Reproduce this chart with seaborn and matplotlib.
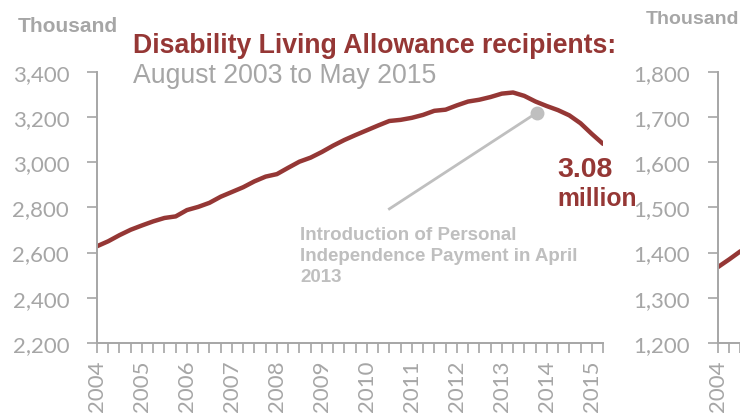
import matplotlib
matplotlib.use("Agg")
import matplotlib.pyplot as plt
import seaborn as sns
import pandas as pd

# ---- data (thousands, quarterly from Aug 2003 to May 2015) ----
dla_recipients = [2628, 2650, 2677, 2701, 2720, 2738, 2753, 2760, 2788, 2802,
                  2820, 2847, 2868, 2889, 2915, 2936, 2947, 2975, 3002, 3020,
                  3045, 3073, 3098, 3120, 3141, 3162, 3182, 3187, 3196, 3209,
                  3227, 3232, 3251, 3268, 3276, 3288, 3303, 3308, 3293, 3268,
                  3248, 3230, 3207, 3172, 3125, 3081]
year_labels = ["2004", "2005", "2006", "2007", "2008", "2009", "2010",
               "2011", "2012", "2013", "2014", "2015"]
right_values = [1368, 1385, 1403]
right_year_labels = ["2004"]
annotation_lines = ["Introduction of Personal",
                    "Independence Payment in April",
                    "2013"]

RED = "#953735"
GRAY = "#A6A6A6"
LIGHT = "#BFBFBF"

sns.set_style("white")
plt.rcParams["font.family"] = ["Liberation Sans", "DejaVu Sans"]

W, H = 740, 414
fig = plt.figure(figsize=(W / 100, H / 100), dpi=100)


def fx(px):
    return px / W


def fy(py):
    return 1 - py / H


def style_axis(ax, n_ticks, labels):
    for s in ["top", "right"]:
        ax.spines[s].set_visible(False)
    for s in ["left", "bottom"]:
        ax.spines[s].set_color(GRAY)
        ax.spines[s].set_linewidth(1.4)
    ax.set_xticks(range(n_ticks))
    lab = [""] * n_ticks
    for k, t in enumerate(labels):
        if 4 * k < n_ticks:
            lab[4 * k] = t
    ax.set_xticklabels(lab, rotation=90, fontfamily="Lato", fontsize=16,
                       color=GRAY)
    ax.tick_params(axis="x", bottom=True, direction="out", length=7,
                   width=1.2, color=GRAY, pad=5)
    ax.tick_params(axis="y", left=True, direction="out", length=7,
                   width=1.2, color=GRAY, pad=13, labelsize=16,
                   labelcolor=GRAY)
    for t in ax.get_yticklabels():
        t.set_fontfamily("Lato")
    ax.set_xlabel("")
    ax.set_ylabel("")
    ax.grid(False)


# ---- left panel ----
axL = fig.add_axes([fx(97), fy(344), fx(603 - 97), (344 - 72.7) / H])
dfL = pd.DataFrame({"q": range(len(dla_recipients)), "v": dla_recipients})
sns.lineplot(data=dfL, x="q", y="v", ax=axL, color=RED, linewidth=3.2)
axL.set_xlim(0, len(dla_recipients) - 1)
axL.set_ylim(2200, 3400)
axL.set_yticks(range(2200, 3401, 200))
axL.set_yticklabels([f"{v:,}" for v in range(2200, 3401, 200)])
style_axis(axL, len(dla_recipients), year_labels)

# annotation connector with dot
axL.plot([25.9, 39.1], [2790, 3218], color=LIGHT, linewidth=2,
         solid_capstyle="butt", zorder=3)
axL.plot([39.1], [3218], marker="o", markersize=9, color=LIGHT, zorder=4)

# ---- right panel (partially visible) ----
q_per_px = 1 / 11.244
axR = fig.add_axes([fx(718), fy(344), 0.3, (344 - 72.7) / H])
dfR = pd.DataFrame({"q": range(len(right_values)), "v": right_values})
sns.lineplot(data=dfR, x="q", y="v", ax=axR, color=RED, linewidth=3.2)
axR.set_xlim(0, 0.3 * W * q_per_px)
axR.set_ylim(1200, 1800)
axR.set_yticks(range(1200, 1801, 100))
axR.set_yticklabels([f"{v:,}" for v in range(1200, 1801, 100)])
style_axis(axR, 20, right_year_labels)

# ---- texts ----
fig.text(fx(18), fy(32), "Thousand", fontsize=15.1, fontweight="bold",
         color=GRAY, va="baseline", ha="left")
fig.text(fx(646), fy(24), "Thousand", fontsize=14, fontweight="bold",
         color=GRAY, va="baseline", ha="left")
fig.text(fx(133), fy(53), "Disability Living Allowance recipients:",
         fontsize=19.2, fontweight="bold", color=RED, va="baseline",
         ha="left")
fig.text(fx(133), fy(83), "August 2003 to May 2015", fontsize=19.2,
         color=GRAY, va="baseline", ha="left")
fig.text(fx(557), fy(177), "3.08", fontsize=20.5, fontweight="bold",
         color=RED, va="baseline", ha="left")
fig.text(fx(557), fy(206), "million", fontsize=17.8, fontweight="bold",
         color=RED, va="baseline", ha="left")
for k, line in enumerate(annotation_lines):
    fig.text(fx(300), fy(240 + 21 * k), line, fontsize=13.5,
             fontweight="bold", color=LIGHT, va="baseline", ha="left")

fig.savefig("out.png", dpi=100)
